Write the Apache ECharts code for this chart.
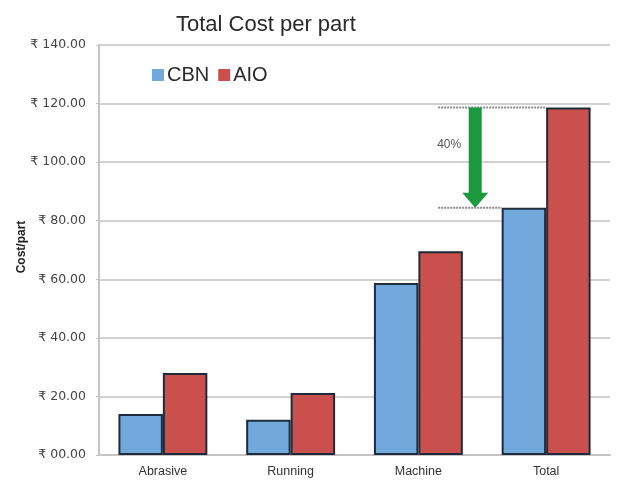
<!DOCTYPE html>
<html>
<head>
<meta charset="utf-8">
<script src="https://cdn.jsdelivr.net/npm/echarts@6/dist/echarts.min.js"></script>
<style>
  html, body { margin: 0; padding: 0; background: #fff; }
  #chart { width: 620px; height: 483px; }
</style>
</head>
<body>
<div id="chart"></div>
<script>
// Cost per part for each cost component, CBN vs AIO grinding
const categories = ['Abrasive', 'Running', 'Machine', 'Total'];
const cbnCost = [14.0, 12.0, 58.7, 84.4];
const aioCost = [28.0, 21.2, 69.6, 118.7];
const seriesNames = ['CBN', 'AIO'];
const yAxisTitle = 'Cost/part';
const savingLabel = '40%';

const font = "'Liberation Sans', 'Noto Sans', 'DejaVu Sans', sans-serif";
const wideFont = "'DejaVu Sans', 'Noto Sans', sans-serif";

function rupee(v) {
  const s = v.toFixed(2);
  return '\u20B9 ' + (v < 10 ? '0' + s : s);
}

const chart = echarts.init(document.getElementById('chart'), null, { renderer: 'canvas' });

const barBorder = { borderColor: '#1f2b38', borderWidth: 2 };

chart.setOption({
  animation: false,
  backgroundColor: '#ffffff',
  title: {
    text: 'Total Cost per part',
    left: 171, top: 9,
    textStyle: { fontFamily: font, fontSize: 22, fontWeight: 'normal', color: '#2a2a2a' }
  },
  legend: {
    data: seriesNames,
    left: 147, top: 60,
    itemWidth: 12, itemHeight: 12, itemGap: 9,
    icon: 'rect',
    itemStyle: { borderWidth: 0 },
    textStyle: { fontFamily: font, fontSize: 20, color: '#2a2a2a', padding: [0, 0, 0, -2] }
  },
  grid: { left: 99, right: 10, top: 45, bottom: 28, containLabel: false },
  xAxis: {
    type: 'category',
    data: categories,
    axisLine: { lineStyle: { color: '#c4c4c4', width: 2 } },
    axisTick: { show: false },
    axisLabel: { fontFamily: font, fontSize: 12.5, color: '#333', margin: 10 }
  },
  yAxis: {
    type: 'value',
    min: 0, max: 140, interval: 20,
    axisLine: { show: true, lineStyle: { color: '#c4c4c4', width: 2 } },
    axisTick: { show: true, length: 3, lineStyle: { color: '#c4c4c4' } },
    axisLabel: { fontFamily: wideFont, fontSize: 12.5, color: '#444', margin: 13, formatter: rupee },
    splitLine: { lineStyle: { color: '#d2d2d2', width: 2 } }
  },
  series: [
    {
      name: seriesNames[0], type: 'bar', data: cbnCost,
      barWidth: '34.8%', barGap: '0%',
      itemStyle: Object.assign({ color: '#72a9dc' }, barBorder)
    },
    {
      name: seriesNames[1], type: 'bar', data: aioCost,
      barWidth: '34.8%', barGap: '0%',
      itemStyle: Object.assign({ color: '#c9504c' }, barBorder)
    }
  ]
});

// Reduction annotation on the Total group: dotted guides and a green arrow
const last = categories.length - 1;
const hi = chart.convertToPixel({ seriesIndex: 1 }, [last, aioCost[last]]);
const lo = chart.convertToPixel({ seriesIndex: 0 }, [last, cbnCost[last]]);
const catLeft = chart.convertToPixel({ xAxisIndex: 0 }, last - 1);
const catCur = chart.convertToPixel({ xAxisIndex: 0 }, last);
const band = catCur - catLeft;
const barW = band * 0.348;
const guideStart = catCur - band * 0.845;
const arrowX = catCur - band * 0.555;
const shaftW = 13, headW = 26, headH = 15;

chart.setOption({
  graphic: [
    {
      // vertical axis title
      type: 'text',
      x: 22, y: 247,
      rotation: Math.PI / 2,
      style: {
        text: yAxisTitle, font: 'bold 12px ' + font, fill: '#222',
        align: 'center', verticalAlign: 'middle'
      }
    },
    {
      type: 'line',
      shape: { x1: guideStart, y1: hi[1], x2: catCur, y2: hi[1] },
      style: { stroke: '#8c8c8c', lineWidth: 2, lineDash: [2, 1] }
    },
    {
      type: 'line',
      shape: { x1: guideStart, y1: lo[1], x2: catCur - barW, y2: lo[1] },
      style: { stroke: '#8c8c8c', lineWidth: 2, lineDash: [2, 1] }
    },
    {
      type: 'polygon',
      shape: {
        points: [
          [arrowX - shaftW / 2, hi[1]],
          [arrowX + shaftW / 2, hi[1]],
          [arrowX + shaftW / 2, lo[1] - headH],
          [arrowX + headW / 2, lo[1] - headH],
          [arrowX, lo[1]],
          [arrowX - headW / 2, lo[1] - headH],
          [arrowX - shaftW / 2, lo[1] - headH]
        ]
      },
      style: { fill: '#1a9a3c' }
    },
    {
      type: 'text',
      x: guideStart - 1,
      y: hi[1] + (lo[1] - hi[1]) * 0.37,
      style: {
        text: savingLabel, font: '12px ' + font, fill: '#555',
        verticalAlign: 'middle'
      }
    }
  ]
});
</script>
</body>
</html>
